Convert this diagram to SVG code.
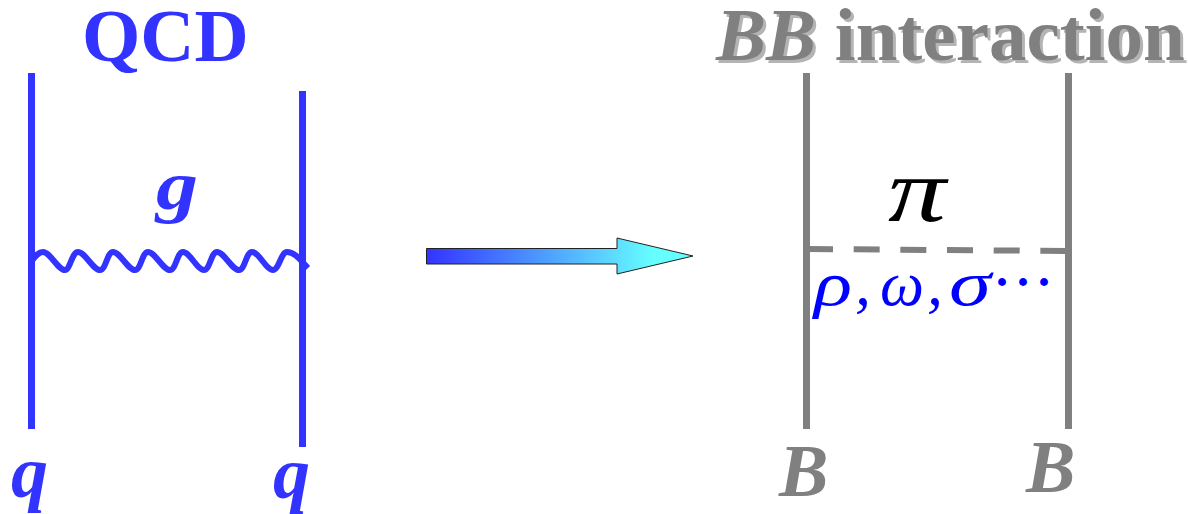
<svg xmlns="http://www.w3.org/2000/svg" width="1188" height="514" viewBox="0 0 1188 514">
<style>
text{font-family:"Liberation Serif","Times New Roman",serif}
.b{fill:#3333ff;font-weight:bold}
.g{fill:#808080;font-weight:bold}
.s{fill:#b4b4b4;font-weight:bold}
.i{font-style:italic}
.m{fill:#0000ff;font-style:italic;font-size:64px}
.bl{fill:none;stroke:#3333ff;stroke-width:7}
.gl{fill:none;stroke:#808080;stroke-width:7}
</style>
<defs><linearGradient id="ag" x1="426" x2="694" y1="0" y2="0" gradientUnits="userSpaceOnUse"><stop offset="0" stop-color="#3333ff"/><stop offset="0.85" stop-color="#66ffff"/><stop offset="1" stop-color="#66ffff"/></linearGradient></defs>
<g id="connectors">
<path class="bl" d="M31.500 73V429"/>
<path class="bl" d="M302.500 91V447"/>
<path fill="none" stroke="#3333ff" stroke-width="6" d="M31 262C36 255 39 252 43 252C50 252 58 270 65 270C70 270 72 252 78 252C85 252 93 270 100 270C106 270 107 252 113 252C120 252 128 270 135 270C141 270 142 252 148 252C155 252 163 270 170 270C176 270 177 252 183 252C190 252 197 270 204 270C210 270 211 252 217 252C224 252 232 270 239 270C245 270 246 252 252 252C259 252 266 270 273 270C279 270 281 252 287 252C295 252 301 261 308 268"/>
<path class="gl" d="M806.500 73V429"/>
<path class="gl" d="M1068.500 73V429"/>
<path fill="none" stroke="#808080" stroke-width="6" stroke-dasharray="26 20.670" d="M807 249L1069 251"/>
<path d="M426.500 248.500H617V238L693 256L617 274V264H426.500Z" fill="url(#ag)" stroke="#222" stroke-width="1"/>
</g>
<g id="qcd-title"><text class="b" x="82" y="61" font-size="75">QCD</text></g>
<g id="gluon-label"><text class="b i" x="156" y="209" font-size="70" textLength="42" lengthAdjust="spacingAndGlyphs">g</text></g>
<g id="quark-left"><text class="b i" x="11" y="497" font-size="74">q</text></g>
<g id="quark-right"><text class="b i" x="273" y="498" font-size="74">q</text></g>
<g id="bb-title">
<text class="s" x="719" y="63" font-size="75"><tspan class="i">BB</tspan> interaction</text>
<text class="g" x="716" y="60" font-size="75"><tspan class="i">BB</tspan> interaction</text>
</g>
<g id="pi-label"><text x="888" y="221" font-size="90" font-style="italic" fill="#000" textLength="58" lengthAdjust="spacingAndGlyphs">π</text></g>
<g id="meson-label"><text class="m" x="814" y="305" textLength="38" lengthAdjust="spacingAndGlyphs">ρ</text><text class="m" x="855" y="305">,</text><text class="m" x="880" y="305" textLength="44" lengthAdjust="spacingAndGlyphs">ω</text><text class="m" x="927" y="305">,</text><text class="m" x="949" y="305" textLength="42" lengthAdjust="spacingAndGlyphs">σ</text><text x="994 1015 1036" y="298" font-size="48" font-weight="bold" fill="#0000ff">···</text></g>
<g id="baryon-left"><text class="g i" x="779" y="496" font-size="74">B</text></g>
<g id="baryon-right"><text class="g i" x="1026" y="492" font-size="74">B</text></g>
</svg>
